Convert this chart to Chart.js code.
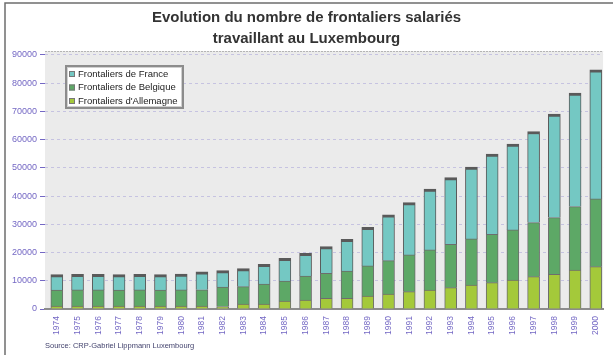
<!DOCTYPE html>
<html>
<head>
<meta charset="utf-8">
<script src="https://cdn.jsdelivr.net/npm/chart.js@4.4.1/dist/chart.umd.min.js"></script>
<style>
  html, body { margin: 0; padding: 0; background: #fff; overflow: hidden; }
  #wrap { width: 613px; height: 355px; position: relative; }
</style>
</head>
<body>
<div id="wrap"><canvas id="myChart" width="613" height="355"></canvas></div>
<script>
var years = [1974, 1975, 1976, 1977, 1978, 1979, 1980, 1981, 1982, 1983, 1984, 1985, 1986, 1987,
             1988, 1989, 1990, 1991, 1992, 1993, 1994, 1995, 1996, 1997, 1998, 1999, 2000];

var france = [5500, 5550, 5550, 5500, 5550, 5500, 5650, 6400, 5800, 6400, 6980, 8050, 8050, 9440,
              11230, 13720, 16200, 18550, 21520, 23620, 25420, 28370, 30390, 32270, 36660, 40210, 45750];
var belgique = [5700, 5750, 5750, 5700, 5750, 5700, 5750, 5800, 6900, 6150, 7100, 7090, 8510, 8870,
                9670, 10650, 11810, 13010, 14180, 15390, 16310, 17140, 17730, 19150, 20080, 22450, 24000];
var allemagne = [1000, 1000, 1000, 1000, 1000, 1000, 1000, 1000, 900, 1750, 1770, 2840, 3190, 3790,
                 3800, 4600, 5320, 6140, 6740, 7550, 8510, 9340, 10280, 11450, 12300, 13830, 15000];

var yTicks = [0, 10000, 20000, 30000, 40000, 50000, 60000, 70000, 80000, 90000];

var titleLines = ['Evolution du nombre de frontaliers salariés', 'travaillant au Luxembourg'];
var sourceText = 'Source: CRP-Gabriel Lippmann Luxembourg';

var FONT = '"Liberation Sans", Arial, sans-serif';
var tickColor = '#7468c4';

// white page, frame and grey plot wall
var background = {
    id: 'background',
    beforeDraw: function(chart) {
        var ctx = chart.ctx, a = chart.chartArea;
        ctx.save();
        ctx.fillStyle = '#fff';
        ctx.fillRect(0, 0, chart.width, chart.height);
        ctx.strokeStyle = '#6e6e6e';
        ctx.lineWidth = 1.5;
        ctx.beginPath();
        ctx.moveTo(5, chart.height);
        ctx.lineTo(5, 3);
        ctx.lineTo(chart.width, 3);
        ctx.stroke();
        ctx.fillStyle = '#ebebeb';
        ctx.fillRect(a.left, a.top, a.right - a.left, a.bottom - a.top);
        ctx.strokeStyle = '#b4b4b4';
        ctx.lineWidth = 1;
        ctx.setLineDash([2, 1]);
        ctx.beginPath();
        ctx.moveTo(a.left, a.top + 0.5);
        ctx.lineTo(a.right, a.top + 0.5);
        ctx.stroke();
        ctx.restore();
    }
};

// boxed legend inside the plot + source line
var legendBox = {
    id: 'legendBox',
    afterDraw: function(chart) {
        var ctx = chart.ctx;
        ctx.save();
        ctx.fillStyle = '#fff';
        ctx.fillRect(65, 65, 119, 44);
        ctx.strokeStyle = '#8c8c8c';
        ctx.lineWidth = 2;
        ctx.strokeRect(66, 66, 117, 42);
        ctx.strokeStyle = '#d0d0d0';
        ctx.lineWidth = 1;
        ctx.strokeRect(67.5, 67.5, 114, 39);

        var items = chart.data.datasets.slice().reverse();
        ctx.font = '9.5px ' + FONT;
        ctx.textBaseline = 'middle';
        items.forEach(function(ds, i) {
            var y = 74 + i * 13.5;
            ctx.fillStyle = ds.backgroundColor;
            ctx.fillRect(69, y - 3, 6, 6);
            ctx.strokeStyle = '#777';
            ctx.lineWidth = 1;
            ctx.strokeRect(69.5, y - 2.5, 5, 5);
            ctx.fillStyle = '#222';
            ctx.fillText(ds.label, 78, y);
        });

        ctx.font = '7.5px ' + FONT;
        ctx.fillStyle = '#44446e';
        ctx.fillText(sourceText, 45, 346);
        ctx.restore();
    }
};

var ctx = document.getElementById('myChart').getContext('2d');
var myChart = new Chart(ctx, {
    type: 'bar',
    data: {
        labels: years,
        datasets: [{
            label: "Frontaliers d'Allemagne",
            data: allemagne,
            backgroundColor: '#a4c93a',
            borderColor: '#6d6d6d',
            borderWidth: 1
        }, {
            label: 'Frontaliers de Belgique',
            data: belgique,
            backgroundColor: '#5da866',
            borderColor: '#6d6d6d',
            borderWidth: 1
        }, {
            label: 'Frontaliers de France',
            data: france,
            backgroundColor: '#74c8c3',
            borderColor: '#5a5a5a',
            borderWidth: { top: 3, left: 1, right: 1, bottom: 1 }
        }]
    },
    options: {
        responsive: false,
        animation: false,
        barThickness: 12,
        layout: { padding: 0 },
        plugins: {
            legend: { display: false },
            tooltip: { enabled: false },
            title: {
                display: true,
                text: titleLines,
                color: '#333',
                font: { family: FONT, size: 15, weight: 'bold', lineHeight: 1.35 },
                padding: { top: 8, bottom: 2.5 }
            }
        },
        scales: {
            x: {
                type: 'linear',
                stacked: true,
                offset: false,
                min: 1973.43,
                max: 2000.35,
                grid: { display: false, drawTicks: false },
                border: { display: true, color: '#8c8c8c', width: 2 },
                ticks: {
                    stepSize: 1,
                    autoSkip: false,
                    minRotation: 90,
                    maxRotation: 90,
                    padding: 7,
                    color: tickColor,
                    font: { family: FONT, size: 8.5 },
                    callback: function(v) { return String(v); }
                },
                afterBuildTicks: function(scale) {
                    scale.ticks = years.map(function(y) { return { value: y }; });
                },
                afterFit: function(scale) { scale.height = 46; }
            },
            y: {
                stacked: true,
                min: 0,
                max: 91400,
                grid: {
                    color: 'rgba(130, 120, 205, 0.35)',
                    tickColor: tickColor,
                    tickLength: 5
                },
                border: { display: false, dash: [3, 3] },
                ticks: {
                    stepSize: 10000,
                    padding: 3,
                    color: tickColor,
                    font: { family: FONT, size: 9 },
                    callback: function(v) { return String(v); }
                },
                afterBuildTicks: function(scale) {
                    scale.ticks = yTicks.map(function(v) { return { value: v }; });
                },
                afterFit: function(scale) { scale.width = 45; }
            }
        }
    },
    plugins: [background, legendBox]
});
</script>
</body>
</html>
